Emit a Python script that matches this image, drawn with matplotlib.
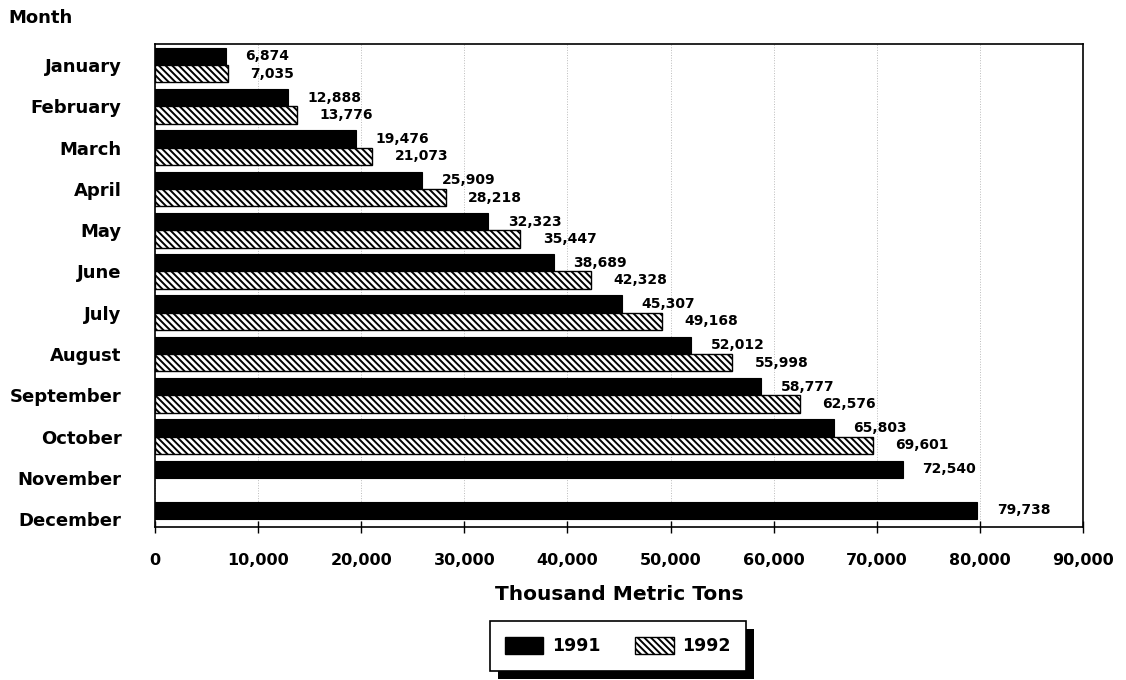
import matplotlib.pyplot as plt
import numpy as np
from matplotlib.patches import Patch, Rectangle

# data
months = ['January', 'February', 'March', 'April', 'May', 'June', 'July',
          'August', 'September', 'October', 'November', 'December']
tons_1991 = [6874, 12888, 19476, 25909, 32323, 38689, 45307, 52012,
             58777, 65803, 72540, 79738]
tons_1992 = [7035, 13776, 21073, 28218, 35447, 42328, 49168, 55998,
             62576, 69601]
x_ticks = [0, 10000, 20000, 30000, 40000, 50000, 60000, 70000, 80000, 90000]

plt.rcParams['font.family'] = ['DejaVu Sans']
plt.rcParams['font.weight'] = 'bold'
plt.rcParams['hatch.linewidth'] = 1.4

HATCH = '\\\\\\\\\\'

fig = plt.figure(figsize=(11.26, 6.8), dpi=100)
ax = fig.add_axes([155 / 1126, 1 - 527 / 680, 928 / 1126, 483 / 680])

h = 0.42
y = np.arange(len(months))
y2 = np.arange(len(tons_1992))

# 1991 bars on top, 1992 hatched bars below
bars1 = ax.barh(y - h / 2, tons_1991, height=h, color='black',
                edgecolor='black', linewidth=0.8)
bars2 = ax.barh(y2 + h / 2, tons_1992, height=h, color='white',
                edgecolor='black', linewidth=1.0, hatch=HATCH)

# value labels
for bar, val in zip(bars1, tons_1991):
    ax.annotate(f'{val:,}', (bar.get_width(), bar.get_y() + bar.get_height() / 2),
                xytext=(14, 0), textcoords='offset points', va='center',
                ha='left', fontsize=10, fontweight='bold')
for bar, val in zip(bars2, tons_1992):
    ax.annotate(f'{val:,}', (bar.get_width(), bar.get_y() + bar.get_height() / 2),
                xytext=(16, 0), textcoords='offset points', va='center',
                ha='left', fontsize=10, fontweight='bold')

ax.set_xlim(0, 90000)
ax.set_ylim(11.19, -0.51)
ax.set_yticks(y)
ax.set_yticklabels(months, fontsize=13, fontweight='bold')
ax.set_xticks(x_ticks)
ax.set_xticklabels([f'{t:,}' for t in x_ticks], fontsize=11.5, fontweight='bold')
ax.tick_params(axis='y', length=0, pad=24)
ax.tick_params(axis='x', direction='inout', length=8, width=1, pad=15)

# faint dotted gridlines like the scan
ax.grid(axis='x', color='#bbbbbb', linestyle=':', linewidth=0.7)
ax.set_axisbelow(True)

for sp in ax.spines.values():
    sp.set_linewidth(1.2)

fig.text(8 / 1126, 1 - 18 / 680, 'Month', fontsize=13, fontweight='bold',
         va='center', ha='left')
fig.text(619 / 1126, 1 - 594 / 680, 'Thousand Metric Tons', fontsize=14.5,
         fontweight='bold', va='center', ha='center')

handles = [Patch(facecolor='black', edgecolor='black'),
           Patch(facecolor='white', edgecolor='black', hatch=HATCH)]
leg = fig.legend(handles, ['1991', '1992'], loc='center',
                 bbox_to_anchor=(618 / 1126, 1 - 646 / 680), ncol=2,
                 fontsize=12.5, frameon=True, fancybox=False, framealpha=1,
                 facecolor='white', edgecolor='black',
                 handlelength=2.2, handleheight=1.1, handletextpad=0.5,
                 columnspacing=2.0, borderpad=0.9)
leg.get_frame().set_linewidth(1.2)
leg.set_zorder(5)

# black drop shadow behind the legend box
fig.canvas.draw()
bb = leg.get_window_extent().transformed(fig.transFigure.inverted())
dx, dy = 8 / 1126, 8 / 680
shadow = Rectangle((bb.x0 + dx, bb.y0 - dy), bb.width, bb.height,
                   transform=fig.transFigure, facecolor='black',
                   edgecolor='none', zorder=4)
fig.add_artist(shadow)

fig.savefig('out.png', dpi=100)
